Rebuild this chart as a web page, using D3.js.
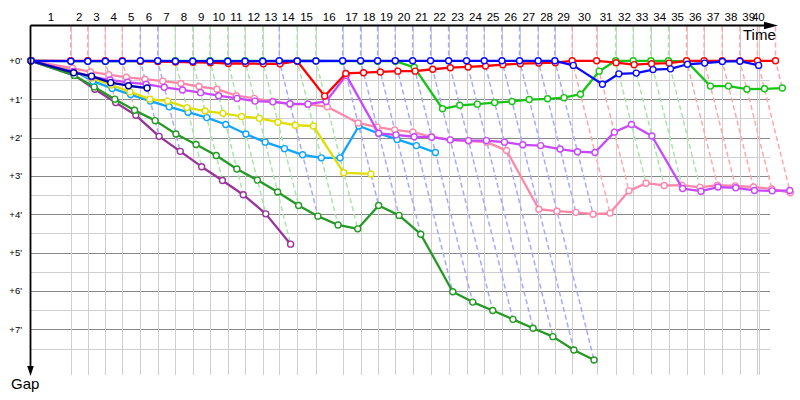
<!DOCTYPE html>
<html><head><meta charset="utf-8">
<script src="https://cdn.jsdelivr.net/npm/d3@7"></script>
<style>html,body{margin:0;padding:0;background:#fff;}svg{display:block;}</style>
</head><body>
<script>
// ---------- DATA ----------
const laps = d3.range(1, 41);
// leader's elapsed time (minutes) at the end of each lap 1..40
const lapTimes = [4.16, 5.94, 7.78, 9.56, 11.45, 13.27, 15.11, 16.93, 18.74, 20.60,
  22.41, 24.26, 26.00, 27.88, 29.84, 32.64, 34.52, 36.30, 38.15, 39.97,
  41.85, 43.74, 45.62, 47.47, 49.32, 51.17, 53.12, 54.87, 56.68, 59.24,
  61.23, 63.07, 64.92, 66.77, 68.66, 70.50, 72.39, 74.24, 76.09, 77.98];
const raceEnd = 76.26;
const gapTicks = [0, 1, 2, 3, 4, 5, 6, 7];
const gapTickLabels = ["+0'", "+1'", "+2'", "+3'", "+4'", "+5'", "+6'", "+7'"];
// gap to the leader (minutes), index 0 = start, index n = end of lap n
const gapDarkMagenta = [0, 0.38, 0.74, 1.09, 1.42, 1.97, 2.36, 2.76, 3.12, 3.49, 3.99, 4.78];
const gapDarkGreen = [0, 0.38, 0.68, 1.00, 1.29, 1.56, 1.91, 2.18, 2.47, 2.82, 3.11, 3.42, 3.77,
  4.05, 4.28, 4.38, 3.77, 4.03, 4.52, 6.02, 6.29, 6.51, 6.74, 6.97, 7.19, 7.54, 7.80];
const gapCyan = [0, 0.24, 0.53, 0.72, 0.88, 1.05, 1.20, 1.34, 1.48, 1.66, 1.91, 2.12, 2.29,
  2.45, 2.53, 2.53, 1.70, 1.89, 2.05, 2.21, 2.39];
const gapYellow = [0, 0.25, 0.45, 0.63, 0.81, 1.00, 1.05, 1.22, 1.31, 1.37, 1.45, 1.50, 1.60,
  1.68, 1.70, 2.92, 2.95];
const gapNavy = [0, 0.31, 0.40, 0.57, 0.65, 0.71];
const gapPink = [0, 0.19, 0.29, 0.36, 0.43, 0.48, 0.53, 0.59, 0.67, 0.74, 0.91, 0.98, 1.06,
  1.13, 1.13, 1.20, 1.62, 1.73, 1.80, 1.86, 1.98, 2.06, 2.09, 2.12, 2.34, 3.87, 3.92, 3.95,
  4.00, 3.97, 3.39, 3.19, 3.25, 3.24, 3.30, 3.24, 3.26, 3.29, 3.34, 3.44];
const gapMagenta = [0, 0.28, 0.42, 0.50, 0.56, 0.61, 0.69, 0.76, 0.83, 0.91, 0.98, 1.05, 1.07,
  1.12, 1.13, 1.06, 0.38, 1.89, 1.93, 1.98, 1.99, 2.06, 2.08, 2.08, 2.12, 2.19, 2.21, 2.30,
  2.37, 2.39, 1.86, 1.66, 1.96, 3.33, 3.40, 3.29, 3.31, 3.38, 3.39, 3.38];
const gapGreen = [0, 0.01, 0.01, 0.01, 0.01, 0.01, 0.01, 0, 0, 0, 0, 0, 0, 0.01, 0, 0,
  0.01, 0.01, 0.01, 0.01, 0.17, 1.25, 1.16, 1.13, 1.09, 1.06, 1.01, 0.99, 0.96, 0.87, 0.27,
  0, 0, 0, 0, 0.02, 0.66, 0.66, 0.74, 0.73, 0.71];
const gapRed = [0, 0, 0, 0, 0, 0.01, 0.02, 0.03, 0.04, 0.05, 0.07, 0.07, 0.08, 0.08, 0.01,
  0.92, 0.33, 0.31, 0.29, 0.27, 0.27, 0.22, 0.18, 0.16, 0.135, 0.10, 0.075, 0.06, 0.05, 0, 0,
  0.05, 0.10, 0.075, 0.06, 0, 0, 0, 0, 0, 0];
const gapBlue = [0, 0.01, 0.01, 0.01, 0.01, 0, 0, 0.01, 0.01, 0.01, 0.01, 0.01, 0.01, 0,
  0.005, 0.005, 0, 0, 0, 0, 0, 0, 0, 0, 0, 0, 0, 0, 0, 0.12, 0.61, 0.34, 0.32, 0.23, 0.21,
  0.09, 0.06, 0.02, 0.01, 0.12];

// ---------- STYLE ----------
const series = [
  {gaps: gapDarkMagenta, color: "#993399", light: "#dcb4dc"},
  {gaps: gapDarkGreen, color: "#249a24", light: "#b4dcb4"},
  {gaps: gapCyan, color: "#11a5ff", light: "#b4dcff"},
  {gaps: gapYellow, color: "#dede00", light: "#f0f0a0"},
  {gaps: gapPink, color: "#ff88aa", light: "#ffd0dc"},
  {gaps: gapMagenta, color: "#c848ff", light: "#e8c0ff"},
  {gaps: gapNavy, color: "#0000b0", light: "#b4b4e8"},
  {gaps: gapGreen, color: "#16c416", light: "#a6e6a6"},
  {gaps: gapRed, color: "#ff0000", light: "#ffa8a8"},
  {gaps: gapBlue, color: "#0a0aff", light: "#a8a8ff"}
];

const W = 800, H = 400;
const svg = d3.select("body").append("svg").attr("width", W).attr("height", H)
  .style("font-family", "'Liberation Sans', Arial, sans-serif");

const x = d3.scaleLinear().domain([0, 77.4]).range([31, 770]);
const y = d3.scaleLinear().domain([0, 8]).range([60.8, 367.7]);
const topY = 25.5, bottomY = 375;

// grid
const g = svg.append("g");
g.selectAll("line.h").data(d3.range(0, 8, 0.5)).join("line")
  .attr("x1", x(0)).attr("x2", x.range()[1])
  .attr("y1", d => Math.round(y(d)) + 0.5).attr("y2", d => Math.round(y(d)) + 0.5)
  .attr("stroke", d => d % 1 === 0 ? "#888" : "#cfcfcf").attr("stroke-width", 1);
const vTimes = lapTimes.filter(t => t <= raceEnd).concat([raceEnd]);
g.selectAll("line.v").data(vTimes).join("line")
  .attr("x1", d => Math.round(x(d)) + 0.5).attr("x2", d => Math.round(x(d)) + 0.5)
  .attr("y1", topY).attr("y2", bottomY)
  .attr("stroke", "#cfcfcf").attr("stroke-width", 1);

// lap dashed lines (colored by leader)
const lapInfo = laps.map((lap, i) => {
  const entries = series.filter(s => s.gaps.length > lap).map(s => ({s, gap: s.gaps[lap]}));
  const leader = entries.reduce((a, b) => b.gap < a.gap ? b : a);
  const maxGap = d3.max(entries, e => e.gap);
  return {lap, t: lapTimes[i], leader: leader.s, maxGap};
});
svg.append("g").selectAll("path").data(lapInfo).join("path")
  .attr("d", d => `M${x(d.t)},${topY + 1}L${x(d.t)},${y(0)}L${x(d.t + d.maxGap)},${y(d.maxGap)}`)
  .attr("fill", "none").attr("stroke", d => d.leader.light)
  .attr("stroke-width", 1.5).attr("stroke-dasharray", "5,3");

// series
const pts = s => s.gaps.map((gap, lap) => ({gap, t: lap === 0 ? 0 : lapTimes[lap - 1] + gap}));
const line = d3.line().x(d => x(d.t)).y(d => y(d.gap));
series.forEach(s => {
  const p = pts(s);
  const gs = svg.append("g");
  gs.append("path").attr("d", line(p)).attr("fill", "none")
    .attr("stroke", s.color).attr("stroke-width", 2.3).attr("stroke-linejoin", "round");
  gs.selectAll("circle").data(p).join("circle")
    .attr("cx", d => x(d.t)).attr("cy", d => y(d.gap)).attr("r", 3)
    .attr("fill", "#fff").attr("stroke", s.color).attr("stroke-width", 1.4);
});

// axes
svg.append("line").attr("x1", x(0) - 0.5).attr("x2", 770).attr("y1", topY).attr("y2", topY)
  .attr("stroke", "#000").attr("stroke-width", 1.8);
svg.append("path").attr("d", `M764,${topY - 3.8}L778,${topY}L764,${topY + 3.8}Z`).attr("fill", "#000");
svg.append("line").attr("x1", x(0) - 0.5).attr("x2", x(0) - 0.5).attr("y1", topY).attr("y2", 368)
  .attr("stroke", "#000").attr("stroke-width", 1.8);
svg.append("path").attr("d", `M${x(0) - 3.8},366L${x(0) - 0.5},376L${x(0) + 2.8},366Z`).attr("fill", "#000");

// lap labels
svg.append("g").selectAll("text").data(laps).join("text")
  .attr("x", (d, i) => (x(i === 0 ? 0 : lapTimes[i - 1]) + x(Math.min(lapTimes[i], raceEnd))) / 2)
  .attr("y", 21).attr("text-anchor", "middle").attr("font-size", 11.5).attr("fill", "#000")
  .text(d => d);

// gap labels
svg.append("g").selectAll("text").data(gapTicks).join("text")
  .attr("x", 22).attr("y", d => y(d) + 3.5).attr("text-anchor", "end")
  .attr("font-size", 9.5).attr("fill", "#000")
  .text((d, i) => gapTickLabels[i]);

svg.append("text").attr("x", 743).attr("y", 40).attr("font-size", 15).text("Time");
svg.append("text").attr("x", 11).attr("y", 389).attr("font-size", 15).text("Gap");
</script>
</body></html>
